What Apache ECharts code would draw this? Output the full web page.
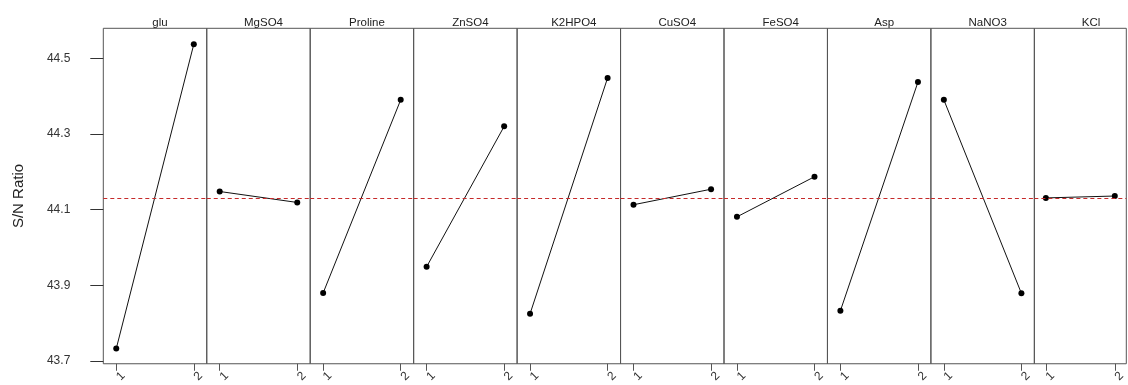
<!DOCTYPE html>
<html>
<head>
<meta charset="utf-8">
<script src="https://cdn.jsdelivr.net/npm/echarts@6/dist/echarts.min.js"></script>
<style>
html,body{margin:0;padding:0;background:#fff;overflow:hidden;}
#chart{width:1128px;height:385px;overflow:hidden;}
</style>
</head>
<body>
<div id="chart"></div>
<script>
const factors = ['glu','MgSO4','Proline','ZnSO4','K2HPO4','CuSO4','FeSO4','Asp','NaNO3','KCl'];
const level1 = [43.733, 44.148, 43.880, 43.949, 43.825, 44.113, 44.081, 43.833, 44.390, 44.131];
const level2 = [44.537, 44.119, 44.390, 44.320, 44.448, 44.154, 44.187, 44.437, 43.879, 44.136];
const levels = [1, 2];
const yTicks = [43.7, 43.9, 44.1, 44.3, 44.5];
const grandMean = 44.134;
const yName = 'S/N Ratio';

const FONT = '"Liberation Sans", Arial, sans-serif';
const panelLeft = 103.3, panelW = 103.45, panelTop = 28.3, panelH = 337.4;
const yMin = 43.693, yMax = 44.579;

const grid = [], xAxis = [], yAxis = [], series = [], title = [];
factors.forEach((f, i) => {
  const left = panelLeft + i * panelW;
  grid.push({left: left, top: panelTop, width: panelW, height: panelH,
    show: true, borderColor: '#555', borderWidth: 1, backgroundColor: 'transparent'});
  xAxis.push({type: 'value', gridIndex: i, min: 0.833, max: 2.167,
    splitLine: {show: false}, axisLine: {show: false},
    axisTick: {show: true, length: 7, lineStyle: {color: '#555'}, customValues: levels},
    axisLabel: {show: true, customValues: levels, rotate: 45, margin: 17,
      align: 'left', padding: [0, 0, 0, 3], fontSize: 12, fontFamily: FONT, color: '#333',
      formatter: v => String(v)}});
  yAxis.push({type: 'value', gridIndex: i, min: yMin, max: yMax,
    splitLine: {show: false}, axisLine: {show: false},
    name: i === 0 ? yName : '', nameLocation: 'middle', nameGap: 77, nameRotate: 90,
    nameTextStyle: {fontSize: 15, fontFamily: FONT, color: '#222'},
    axisTick: {show: i === 0, length: 13, lineStyle: {color: '#333'}, customValues: yTicks},
    axisLabel: {show: i === 0, customValues: yTicks, margin: 33, fontSize: 12,
      fontFamily: FONT, color: '#333', formatter: v => v.toFixed(1)}});
  series.push({type: 'line', xAxisIndex: i, yAxisIndex: i,
    data: [[levels[0], level1[i]], [levels[1], level2[i]]],
    symbol: 'circle', symbolSize: 6, itemStyle: {color: '#000'},
    lineStyle: {color: '#111', width: 1}, animation: false, silent: true,
    markLine: {silent: true, symbol: 'none', label: {show: false}, animation: false,
      lineStyle: {color: '#c62a2a', type: [4, 3], width: 1.1},
      data: [{yAxis: grandMean}]}});
  title.push({text: f, left: left + panelW / 2, top: 12, textAlign: 'center',
    textStyle: {fontSize: 11.5, fontWeight: 'normal', fontFamily: FONT, color: '#222'}});
});

const chart = echarts.init(document.getElementById('chart'), null, {renderer: 'canvas'});
chart.setOption({animation: false, backgroundColor: '#fff', title, grid, xAxis, yAxis, series});
</script>
</body>
</html>
